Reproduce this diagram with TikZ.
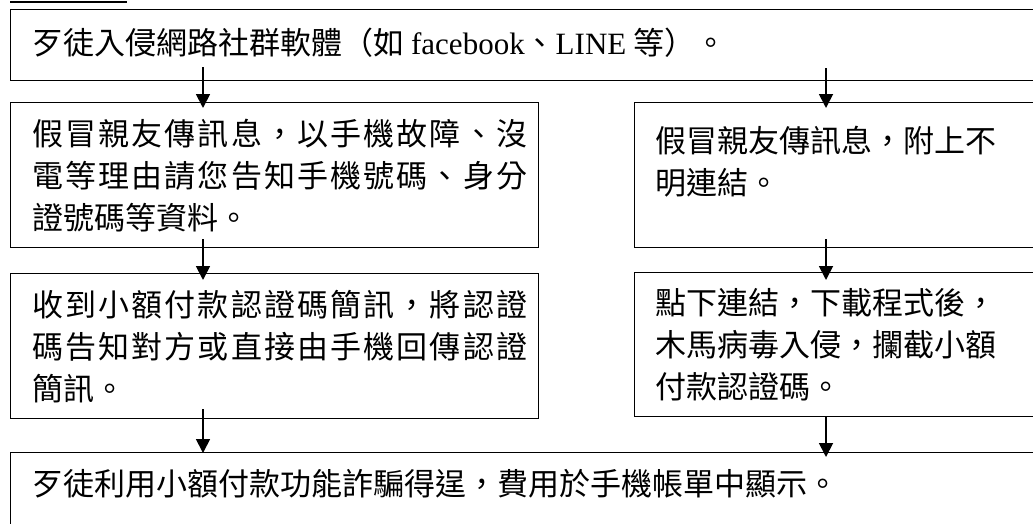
\documentclass[tikz,border=0pt]{standalone}
\usepackage{fontspec}
\setmainfont{Noto Sans CJK TC}
\newfontfamily\lat{Liberation Serif}
\usetikzlibrary{arrows.meta}
\makeatletter
\def\spr#1{#1\futurelet\spr@next\spr@x}
\def\spr@x{\ifx\spr@next\relax\expandafter\@gobble\else\hfil\expandafter\spr\fi}
\makeatother
\begin{document}
\begin{tikzpicture}[x=1pt,y=-1pt,
  box/.style={draw, line width=1.4pt, inner sep=0pt, anchor=north west},
  txt/.style={anchor=west, align=left, inner sep=0pt, font=\fontsize{31}{42}\selectfont},
  arr/.style={line width=1.8pt, -{Triangle[length=14pt,width=14pt]}}]
\useasboundingbox (0,0) rectangle (1033,523);
\clip (0,0) rectangle (1033,523);
\fill[white] (0,0) rectangle (1033,523);
\draw[line width=2pt] (10,1.5) -- (127,1.5);
% boxes
\node[box, minimum width=1100pt, minimum height=71pt] (top) at (10,9) {};
\node[box, minimum width=528pt, minimum height=145pt] (l1) at (10,102) {};
\node[box, minimum width=500pt, minimum height=145pt] (r1) at (634,102) {};
\node[box, minimum width=528pt, minimum height=145pt] (l2) at (10,273) {};
\node[box, minimum width=500pt, minimum height=144pt] (r2) at (634,272) {};
\node[box, minimum width=1100pt, minimum height=120pt] (bot) at (10,452) {};
% texts
\node[txt] (ttop) at (32,43) {歹徒入侵網路社群軟體（如 {\lat facebook}、{\lat LINE} 等）。};
\node[txt] (tl1) at (32,176) {\hbox to 495pt{\spr 假冒親友傳訊息，以手機故障、沒\relax}\\\hbox to 495pt{\spr 電等理由請您告知手機號碼、身分\relax}\\證號碼等資料。};
\node[txt] (tr1) at (655,162) {假冒親友傳訊息，附上不\\明連結。};
\node[txt] (tl2) at (32,347) {\hbox to 495pt{\spr 收到小額付款認證碼簡訊，將認證\relax}\\\hbox to 495pt{\spr 碼告知對方或直接由手機回傳認證\relax}\\簡訊。};
\node[txt] (tr2) at (655,345) {點下連結，下載程式後，\\木馬病毒入侵，攔截小額\\付款認證碼。};
\node[txt] (tbot) at (32,484) {歹徒利用小額付款功能詐騙得逞，費用於手機帳單中顯示。};
% arrow columns
\coordinate (xl) at (203,0);
\coordinate (xr) at (826,0);
\draw[arr] ([yshift=14pt]top.south -| xl) -- ([yshift=-6pt]l1.north -| xl);
\draw[arr] ([yshift=13pt]top.south -| xr) -- ([yshift=-6pt]r1.north -| xr);
\draw[arr] ([yshift=9pt]l1.south -| xl) -- ([yshift=-7pt]l2.north -| xl);
\draw[arr] ([yshift=9pt]r1.south -| xr) -- ([yshift=-8pt]r2.north -| xr);
\draw[arr] ([yshift=10pt]l2.south -| xl) -- ([yshift=-1pt]bot.north -| xl);
\draw[arr] ([yshift=1pt]r2.south -| xr) -- ([yshift=-5pt]bot.north -| xr);
\end{tikzpicture}
\end{document}
